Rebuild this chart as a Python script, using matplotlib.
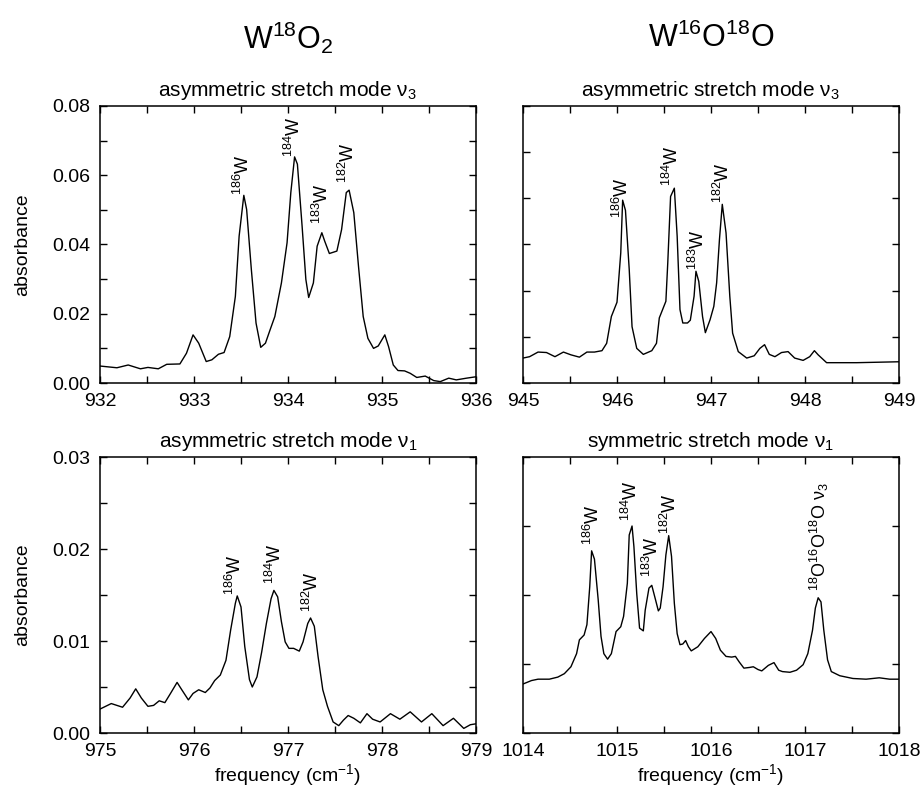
import matplotlib
matplotlib.use('Agg')
import matplotlib.pyplot as plt
import numpy as np
from matplotlib.ticker import MultipleLocator, FormatStrFormatter

plt.rcParams['font.family'] = ['Liberation Sans', 'DejaVu Sans']
plt.rcParams['mathtext.fontset'] = 'custom'
plt.rcParams['mathtext.rm'] = 'Liberation Sans'
plt.rcParams['mathtext.it'] = 'Liberation Sans:italic'
plt.rcParams['mathtext.bf'] = 'Liberation Sans:bold'

# W18O2, nu3 band
w18_nu3_freq = [932.00, 932.18, 932.30, 932.43, 932.51, 932.62, 932.71, 932.85, 932.92, 932.99,
                933.05, 933.13, 933.19, 933.26, 933.32, 933.38, 933.44, 933.48, 933.53, 933.56,
                933.61, 933.66, 933.71, 933.76, 933.81, 933.86, 933.93, 933.99, 934.03, 934.07,
                934.10, 934.15, 934.19, 934.22, 934.27, 934.31, 934.36, 934.39, 934.44, 934.52,
                934.57, 934.62, 934.65, 934.70, 934.75, 934.80, 934.85, 934.91, 934.96, 935.03,
                935.07, 935.12, 935.17, 935.24, 935.30, 935.37, 935.46, 935.55, 935.62, 935.71,
                935.79, 935.90, 936.00]
w18_nu3_abs = [0.0049, 0.0044, 0.0052, 0.0041, 0.0045, 0.0041, 0.0054, 0.0055, 0.0086, 0.0139,
               0.0115, 0.0062, 0.0067, 0.0083, 0.0088, 0.0134, 0.0250, 0.0424, 0.0542, 0.0501,
               0.0328, 0.0173, 0.0103, 0.0115, 0.0154, 0.0192, 0.0289, 0.0405, 0.0550, 0.0653,
               0.0632, 0.0453, 0.0299, 0.0247, 0.0289, 0.0395, 0.0434, 0.0410, 0.0374, 0.0381,
               0.0443, 0.0550, 0.0557, 0.0492, 0.0337, 0.0192, 0.0129, 0.0100, 0.0107, 0.0139,
               0.0105, 0.0052, 0.0036, 0.0035, 0.0028, 0.0016, 0.0020, 0.0007, 0.0004, 0.0014,
               0.0009, 0.0014, 0.0018]

# W16O18O, nu3 band
w1618_nu3_freq = [945.00, 945.07, 945.16, 945.25, 945.34, 945.43, 945.51, 945.60, 945.68, 945.76,
                  945.84, 945.89, 945.94, 946.00, 946.04, 946.06, 946.09, 946.13, 946.16, 946.21,
                  946.28, 946.37, 946.42, 946.45, 946.52, 946.54, 946.57, 946.61, 946.64, 946.67,
                  946.70, 946.75, 946.78, 946.82, 946.84, 946.87, 946.91, 946.94, 946.99, 947.03,
                  947.06, 947.09, 947.12, 947.16, 947.20, 947.23, 947.29, 947.38, 947.46, 947.52,
                  947.57, 947.62, 947.68, 947.75, 947.82, 947.89, 947.98, 948.05, 948.10, 948.14,
                  948.23, 948.55, 949.00]
w1618_nu3_abs = [0.0054, 0.0057, 0.0067, 0.0066, 0.0057, 0.0067, 0.0061, 0.0056, 0.0067, 0.0067,
                 0.0070, 0.0086, 0.0144, 0.0175, 0.0282, 0.0396, 0.0374, 0.0246, 0.0122, 0.0075,
                 0.0062, 0.0070, 0.0086, 0.0141, 0.0177, 0.0260, 0.0404, 0.0422, 0.0318, 0.0159,
                 0.0130, 0.0130, 0.0136, 0.0188, 0.0242, 0.0220, 0.0144, 0.0109, 0.0137, 0.0166,
                 0.0217, 0.0311, 0.0387, 0.0325, 0.0188, 0.0108, 0.0068, 0.0054, 0.0059, 0.0075,
                 0.0083, 0.0062, 0.0057, 0.0066, 0.0068, 0.0054, 0.0049, 0.0057, 0.0070, 0.0061,
                 0.0044, 0.0044, 0.0046]

# W18O2, nu1 band
w18_nu1_freq = [975.00, 975.12, 975.24, 975.32, 975.38, 975.44, 975.51, 975.57, 975.63, 975.69,
                975.75, 975.82, 975.87, 975.94, 975.99, 976.05, 976.12, 976.17, 976.22, 976.28,
                976.34, 976.39, 976.44, 976.46, 976.50, 976.54, 976.59, 976.62, 976.67, 976.72,
                976.77, 976.82, 976.85, 976.89, 976.93, 976.97, 977.01, 977.06, 977.12, 977.16,
                977.21, 977.24, 977.28, 977.32, 977.37, 977.42, 977.48, 977.54, 977.59, 977.64,
                977.70, 977.77, 977.84, 977.90, 977.98, 978.09, 978.19, 978.30, 978.42, 978.53,
                978.65, 978.76, 978.87, 978.94, 979.00]
w18_nu1_abs = [0.0026, 0.0032, 0.0028, 0.0038, 0.0048, 0.0038, 0.0029, 0.0030, 0.0035, 0.0033,
               0.0043, 0.0055, 0.0047, 0.0036, 0.0043, 0.0047, 0.0044, 0.0049, 0.0057, 0.0063,
               0.0079, 0.0112, 0.0141, 0.0149, 0.0137, 0.0094, 0.0058, 0.0050, 0.0061, 0.0088,
               0.0119, 0.0146, 0.0155, 0.0148, 0.0121, 0.0099, 0.0092, 0.0092, 0.0089, 0.0099,
               0.0119, 0.0125, 0.0116, 0.0083, 0.0047, 0.0029, 0.0012, 0.0008, 0.0014, 0.0019,
               0.0016, 0.0011, 0.0021, 0.0015, 0.0012, 0.0021, 0.0015, 0.0023, 0.0012, 0.0021,
               0.0008, 0.0016, 0.0005, 0.0009, 0.0010]

# W16O18O, nu1 band
w1618_nu1_freq = [1014.00, 1014.09, 1014.16, 1014.28, 1014.37, 1014.44, 1014.51, 1014.57, 1014.60, 1014.65,
                  1014.68, 1014.71, 1014.73, 1014.76, 1014.80, 1014.83, 1014.86, 1014.90, 1014.94, 1014.99,
                  1015.04, 1015.07, 1015.11, 1015.13, 1015.16, 1015.18, 1015.21, 1015.24, 1015.28, 1015.30,
                  1015.34, 1015.37, 1015.41, 1015.44, 1015.46, 1015.49, 1015.52, 1015.55, 1015.58, 1015.61,
                  1015.64, 1015.67, 1015.70, 1015.73, 1015.76, 1015.79, 1015.86, 1015.93, 1016.00, 1016.05,
                  1016.10, 1016.16, 1016.22, 1016.26, 1016.30, 1016.35, 1016.41, 1016.45, 1016.50, 1016.54,
                  1016.61, 1016.67, 1016.72, 1016.76, 1016.84, 1016.91, 1016.98, 1017.03, 1017.08, 1017.11,
                  1017.14, 1017.17, 1017.20, 1017.24, 1017.28, 1017.37, 1017.51, 1017.65, 1017.79, 1017.90,
                  1018.00]
w1618_nu1_abs = [0.0071, 0.0076, 0.0078, 0.0078, 0.0081, 0.0086, 0.0096, 0.0115, 0.0135, 0.0142,
                 0.0157, 0.0212, 0.0264, 0.0252, 0.0193, 0.0140, 0.0115, 0.0107, 0.0115, 0.0147,
                 0.0154, 0.0169, 0.0217, 0.0287, 0.0300, 0.0270, 0.0202, 0.0152, 0.0148, 0.0178,
                 0.0210, 0.0214, 0.0193, 0.0177, 0.0181, 0.0212, 0.0258, 0.0286, 0.0256, 0.0188,
                 0.0144, 0.0128, 0.0129, 0.0134, 0.0125, 0.0119, 0.0125, 0.0137, 0.0147, 0.0137,
                 0.0120, 0.0111, 0.0110, 0.0111, 0.0103, 0.0094, 0.0095, 0.0096, 0.0092, 0.0090,
                 0.0098, 0.0102, 0.0091, 0.0089, 0.0088, 0.0091, 0.0099, 0.0115, 0.0149, 0.0181,
                 0.0196, 0.0190, 0.0149, 0.0106, 0.0089, 0.0083, 0.0079, 0.0078, 0.0080, 0.0078,
                 0.0078]

# peak assignments
w18_nu3_peaks = [933.52, 934.06, 934.36, 934.64]
w18_nu3_labels = ['$^{186}$W', '$^{184}$W', '$^{183}$W', '$^{182}$W']
w1618_nu3_peaks = [946.05, 946.58, 946.86, 947.13]
w1618_nu3_labels = ['$^{186}$W', '$^{184}$W', '$^{183}$W', '$^{182}$W']
w18_nu1_peaks = [976.44, 976.86, 977.25]
w18_nu1_labels = ['$^{186}$W', '$^{184}$W', '$^{182}$W']
w1618_nu1_peaks = [1014.74, 1015.15, 1015.37, 1015.56, 1017.15]
w1618_nu1_labels = ['$^{186}$W', '$^{184}$W', '$^{183}$W', '$^{182}$W',
                    '$^{18}$O$^{16}$O$^{18}$O \u03bd$_3$']


def panel(rect, freq, absb, xlim, ylim, ystep, title, peaks, labels, show_y=False):
    ax = fig.add_axes(rect)
    ax.plot(freq, absb, color='black', lw=1.0)
    ax.set_xlim(xlim)
    ax.set_ylim(ylim)
    ax.xaxis.set_major_locator(MultipleLocator(1))
    ax.xaxis.set_minor_locator(MultipleLocator(0.5))
    ax.xaxis.set_major_formatter(FormatStrFormatter('%d'))
    if show_y:
        ax.yaxis.set_major_locator(MultipleLocator(2 * ystep if ylim[1] > 0.05 else ystep))
        ax.yaxis.set_minor_locator(MultipleLocator(ystep if ylim[1] > 0.05 else ystep / 2))
        ax.yaxis.set_major_formatter(FormatStrFormatter('%.2f'))
        ax.set_ylabel('absorbance', fontsize=14, labelpad=15)
    else:
        ax.yaxis.set_major_locator(MultipleLocator(ystep))
        ax.yaxis.set_minor_locator(MultipleLocator(ystep))
        ax.tick_params(axis='y', labelleft=False)
    ax.tick_params(which='both', direction='in', top=True, right=True,
                   length=5, width=1.0, labelsize=14, pad=7)
    for s in ax.spines.values():
        s.set_linewidth(1.1)
    ax.set_title(title, fontsize=15, pad=7)
    for px, lab in zip(peaks, labels):
        py = np.interp(px, freq, absb)
        ax.annotate(lab, xy=(px, py), xytext=(0, 6), textcoords='offset points',
                    rotation=90, ha='center', va='bottom', fontsize=13)
    return ax


fig = plt.figure(figsize=(9.22, 7.91), dpi=100)

W, H = 922, 791
def rect(x0, y0, x1, y1):
    return [x0 / W, (H - y1) / H, (x1 - x0) / W, (y1 - y0) / H]

panel(rect(100, 106, 476, 383), w18_nu3_freq, w18_nu3_abs, (932, 936), (0, 0.08), 0.01,
      'asymmetric stretch mode \u03bd$_3$', w18_nu3_peaks, w18_nu3_labels, show_y=True)
panel(rect(523, 106, 899, 383), w1618_nu3_freq, w1618_nu3_abs, (945, 949), (0, 0.06), 0.01,
      'asymmetric stretch mode \u03bd$_3$', w1618_nu3_peaks, w1618_nu3_labels)
ax3 = panel(rect(100, 457, 476, 733), w18_nu1_freq, w18_nu1_abs, (975, 979), (0, 0.03), 0.01,
            'asymmetric stretch mode \u03bd$_1$', w18_nu1_peaks, w18_nu1_labels, show_y=True)
ax4 = panel(rect(523, 457, 899, 733), w1618_nu1_freq, w1618_nu1_abs, (1014, 1018), (0, 0.04), 0.01,
            'symmetric stretch mode \u03bd$_1$', w1618_nu1_peaks, w1618_nu1_labels)
ax3.set_xlabel('frequency (cm$^{-1}$)', fontsize=14, labelpad=2)
ax4.set_xlabel('frequency (cm$^{-1}$)', fontsize=14, labelpad=2)

fig.text(288 / W, 1 - 38 / H, 'W$^{18}$O$_2$', fontsize=22, ha='center', va='center')
fig.text(711 / W, 1 - 38 / H, 'W$^{16}$O$^{18}$O', fontsize=22, ha='center', va='center')

fig.savefig('out.png', dpi=100)
